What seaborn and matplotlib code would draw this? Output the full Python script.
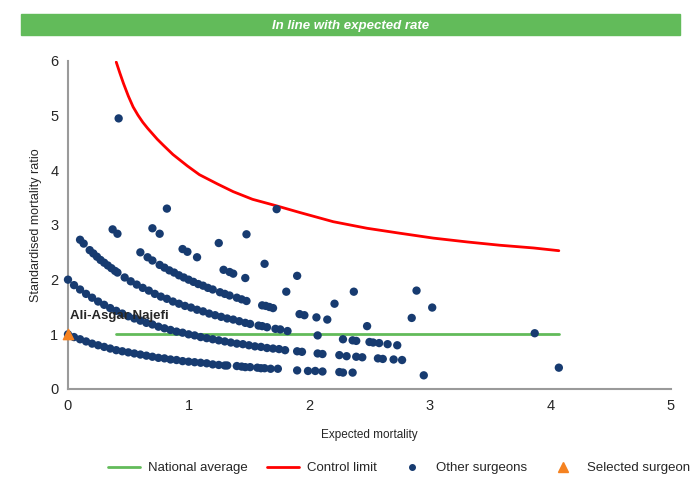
import numpy as np
import pandas as pd
import matplotlib.pyplot as plt
import seaborn as sns
from matplotlib.patches import Rectangle
from matplotlib.lines import Line2D

# Data
# other surgeons, grouped by the visible bands (observed deaths)
band1_x = [0.00, 0.05, 0.10, 0.15, 0.20, 0.25, 0.30, 0.35, 0.40, 0.45, 0.50, 0.55, 0.60, 0.65,
           0.70, 0.75, 0.80, 0.85, 0.90, 0.95, 1.00, 1.05, 1.10, 1.15, 1.20, 1.25, 1.30,
           1.32, 1.40, 1.44, 1.47, 1.51, 1.57, 1.60, 1.63, 1.68, 1.74, 1.90, 1.99, 2.05, 2.11,
           2.25, 2.28, 2.36, 2.95]
band1_y = [1.00, 0.95, 0.91, 0.87, 0.83, 0.80, 0.77, 0.74, 0.71, 0.69, 0.67, 0.65, 0.63, 0.61,
           0.59, 0.57, 0.56, 0.54, 0.53, 0.51, 0.50, 0.49, 0.48, 0.47, 0.45, 0.44, 0.43,
           0.43, 0.42, 0.41, 0.40, 0.40, 0.39, 0.38, 0.38, 0.37, 0.37, 0.34, 0.33, 0.33, 0.32,
           0.31, 0.30, 0.30, 0.25]

band2_x = [0.00, 0.05, 0.10, 0.15, 0.20, 0.25, 0.30, 0.35, 0.40, 0.45, 0.50, 0.55, 0.60, 0.65,
           0.70, 0.75, 0.80, 0.85, 0.90, 0.95, 1.00, 1.05, 1.10, 1.15, 1.20, 1.25, 1.30, 1.35,
           1.40, 1.45, 1.50, 1.55, 1.60, 1.65, 1.70, 1.75, 1.80,
           1.90, 1.94, 2.07, 2.11, 2.25, 2.31, 2.39, 2.44, 2.57, 2.61, 2.70, 2.77, 4.07]
band2_y = [2.00, 1.90, 1.82, 1.74, 1.67, 1.60, 1.54, 1.48, 1.43, 1.38, 1.33, 1.29, 1.25, 1.21,
           1.18, 1.14, 1.11, 1.08, 1.05, 1.03, 1.00, 0.98, 0.95, 0.93, 0.91, 0.89, 0.87, 0.85,
           0.83, 0.82, 0.80, 0.78, 0.77, 0.75, 0.74, 0.73, 0.71,
           0.69, 0.68, 0.65, 0.64, 0.62, 0.60, 0.59, 0.58, 0.56, 0.55, 0.54, 0.53, 0.39]

band3_x = [0.10, 0.13, 0.18, 0.21, 0.24, 0.27, 0.30, 0.33, 0.36, 0.39, 0.41,
           0.47, 0.52, 0.57, 0.62, 0.67, 0.72, 0.77, 0.82, 0.87, 0.92, 0.97, 1.02, 1.07, 1.12,
           1.17, 1.22, 1.27, 1.32, 1.37, 1.42, 1.47, 1.51,
           1.58, 1.61, 1.65, 1.72, 1.76, 1.82, 2.07, 2.28, 2.36, 2.39, 2.50, 2.53, 2.58, 2.65, 2.73]
band3_y = [2.73, 2.66, 2.54, 2.48, 2.42, 2.36, 2.31, 2.26, 2.21, 2.16, 2.13,
           2.04, 1.97, 1.91, 1.85, 1.80, 1.74, 1.69, 1.65, 1.60, 1.56, 1.52, 1.49, 1.45, 1.42,
           1.38, 1.35, 1.32, 1.29, 1.27, 1.24, 1.21, 1.19,
           1.16, 1.15, 1.13, 1.10, 1.09, 1.06, 0.98, 0.91, 0.89, 0.88, 0.86, 0.85, 0.84, 0.82, 0.80]

band4_x = [0.37, 0.41, 0.60, 0.66, 0.70, 0.76, 0.80, 0.84, 0.88, 0.92, 0.96, 1.00, 1.04, 1.08,
           1.12, 1.16, 1.20, 1.26, 1.30, 1.34, 1.40, 1.44, 1.48, 1.61, 1.64, 1.67, 1.70,
           1.92, 1.96, 2.06, 2.15, 2.48]
band4_y = [2.92, 2.84, 2.50, 2.41, 2.35, 2.27, 2.22, 2.17, 2.13, 2.08, 2.04, 2.00, 1.96, 1.92,
           1.89, 1.85, 1.82, 1.77, 1.74, 1.71, 1.67, 1.64, 1.61, 1.53, 1.52, 1.50, 1.48,
           1.37, 1.35, 1.31, 1.27, 1.15]

upper_x = [0.70, 0.76, 0.95, 0.99, 1.07, 1.29, 1.34, 1.37, 1.47, 1.81, 2.21, 2.85, 3.87,
           0.82, 1.25, 1.63, 1.90, 2.37, 3.02, 0.42, 1.48, 2.89, 1.73]
upper_y = [2.94, 2.84, 2.56, 2.51, 2.41, 2.18, 2.14, 2.11, 2.03, 1.78, 1.56, 1.30, 1.02,
           3.30, 2.67, 2.29, 2.07, 1.78, 1.49, 4.95, 2.83, 1.80, 3.29]

# control limit (upper funnel)
limit_x = [0.40, 0.43, 0.46, 0.50, 0.54, 0.58, 0.62, 0.66, 0.70, 0.74, 0.79, 0.87, 0.99, 1.09,
           1.24, 1.37, 1.53, 1.73, 1.92, 2.20, 2.48, 2.75, 3.03, 3.31, 3.58, 3.86, 4.07]
limit_y = [5.98, 5.78, 5.59, 5.36, 5.16, 5.01, 4.88, 4.77, 4.67, 4.57, 4.46, 4.29, 4.08, 3.92,
           3.75, 3.61, 3.47, 3.35, 3.23, 3.06, 2.94, 2.85, 2.76, 2.69, 2.63, 2.58, 2.53]

# national average
nat_x = [0.40, 4.07]
nat_y = [1.0, 1.0]

# selected surgeon
sel_x = [0.0]
sel_y = [1.0]
sel_name = "Ali-Asgar Najefi"

title_text = "In line with expected rate"

NAVY = "#173B70"
RED = "#FF0000"
GREEN = "#62BB5A"
ORANGE = "#F58220"
GREY = "#9A9A9A"

sns.set_style("white")
plt.rcParams['font.family'] = ['Liberation Sans', 'DejaVu Sans']

others = pd.DataFrame({
    'expected': band1_x + band2_x + band3_x + band4_x + upper_x,
    'smr': band1_y + band2_y + band3_y + band4_y + upper_y,
})
limit = pd.DataFrame({'expected': limit_x, 'smr': limit_y})

fig = plt.figure(figsize=(7, 5), dpi=100)
ax = fig.add_axes([68 / 700, 1 - 389 / 500, (671 - 68) / 700, (389 - 61) / 500])

# green title band
fig.patches.append(Rectangle((21 / 700, 1 - 35 / 500), (680 - 21) / 700, 21 / 500,
                             transform=fig.transFigure, color=GREEN, zorder=0))
fig.text(351 / 700, 1 - 25 / 500, title_text, color='white', fontsize=9.5,
         fontweight='bold', fontstyle='italic', ha='center', va='center_baseline')

ax.plot(nat_x, nat_y, color=GREEN, lw=2, zorder=2)
sns.lineplot(data=limit, x='expected', y='smr', color=RED, lw=2, sort=False, ax=ax, zorder=2)
sns.scatterplot(data=others, x='expected', y='smr', color=NAVY, s=36, edgecolor='none',
                ax=ax, zorder=3, clip_on=False)
ax.scatter(sel_x, sel_y, marker='^', color=ORANGE, s=55, zorder=4, clip_on=False)
ax.text(sel_x[0] + 0.02, sel_y[0] + 0.33, sel_name, fontsize=9.5, fontweight='bold',
        ha='left', va='center', zorder=5)

ax.set_xlim(0, 5)
ax.set_ylim(0, 6)
ax.set_xticks(range(0, 6))
ax.set_yticks(range(0, 7))
ax.set_xlabel("Expected mortality", fontsize=8.5, labelpad=12)
ax.set_ylabel("Standardised mortality ratio", fontsize=9, labelpad=6)

for side in ['top', 'right']:
    ax.spines[side].set_visible(False)
for side in ['left', 'bottom']:
    ax.spines[side].set_color(GREY)
    ax.spines[side].set_linewidth(1.5)
ax.tick_params(axis='both', direction='out', length=5, width=1.5, color=GREY,
               labelsize=10.5, pad=2)

handles = [
    Line2D([], [], color=GREEN, lw=2),
    Line2D([], [], color=RED, lw=2),
    Line2D([], [], color=NAVY, marker='o', ls='none', markersize=4),
    Line2D([], [], color=ORANGE, marker='^', ls='none', markersize=7),
]
labels = ["National average", "Control limit", "Other surgeons", "Selected surgeon"]
fig.legend(handles, labels, loc='center', bbox_to_anchor=(399 / 700, 1 - 468 / 500), ncol=4,
           frameon=False, fontsize=9.5, handlelength=2.4, columnspacing=1.5, handletextpad=0.6)

fig.savefig("out.png", dpi=100)
